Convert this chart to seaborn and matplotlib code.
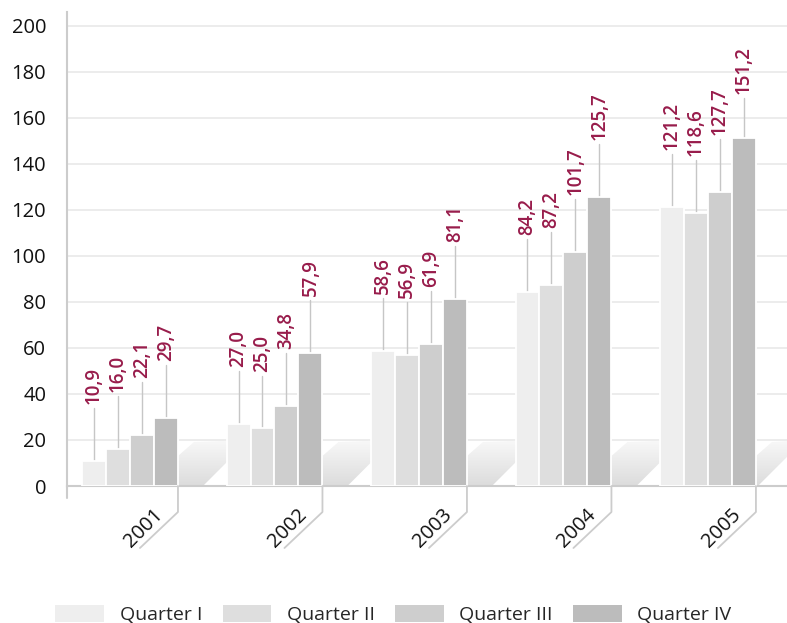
#!/usr/bin/env python3
"""
Quarterly values 2001-2005, grouped grey bars with leader-line labels
"""

import numpy as np
import pandas as pd
import matplotlib
matplotlib.use("Agg")
import matplotlib.pyplot as plt
from matplotlib.patches import Patch, Polygon
from matplotlib.colors import LinearSegmentedColormap
import seaborn as sns

# data
years = ["2001", "2002", "2003", "2004", "2005"]
quarters = ["Quarter I", "Quarter II", "Quarter III", "Quarter IV"]
q1 = [10.9, 27.0, 58.6, 84.2, 121.2]
q2 = [16.0, 25.0, 56.9, 87.2, 118.6]
q3 = [22.1, 34.8, 61.9, 101.7, 127.7]
q4 = [29.7, 57.9, 81.1, 125.7, 151.2]
y_ticks = [0, 20, 40, 60, 80, 100, 120, 140, 160, 180, 200]

colors = ["#eeeeee", "#dedede", "#cecece", "#bcbcbc"]
label_color = "#981c4b"
line_color = "#cccccc"


def px_offset(ax, x, y, dx, dy):
    """Point (x, y) in data shifted by (dx, dy) display pixels, back in data"""
    disp = ax.transData.transform((x, y))
    return ax.transData.inverted().transform((disp[0] + dx, disp[1] + dy))


def main():
    sns.set_style("white")
    plt.rcParams["font.family"] = ["Open Sans", "DejaVu Sans"]

    df = pd.DataFrame({
        "year": np.repeat(years, 4),
        "quarter": quarters * len(years),
        "value": np.array([q1, q2, q3, q4]).T.flatten(),
    })

    fig = plt.figure(figsize=(7.87, 6.23), dpi=100)
    ax = fig.add_axes([67 / 787, 137 / 623, 1 - 67 / 787, (486 - 12) / 623])

    group_w = 0.664
    sns.barplot(data=df, x="year", y="value", hue="quarter", order=years,
                hue_order=quarters, palette=colors, width=group_w, gap=0,
                edgecolor="white", linewidth=1.3, legend=False, ax=ax,
                zorder=3)

    ax.set_xlim(-0.436, 4.547)
    ax.set_ylim(0, 206)
    ax.set_yticks(y_ticks)
    ax.set_xticks([])
    ax.set_xlabel("")
    ax.set_ylabel("")

    ax.yaxis.grid(True, color="#ececec", lw=1.4)
    ax.set_axisbelow(True)
    for s in ["top", "right"]:
        ax.spines[s].set_visible(False)
    for s in ["left", "bottom"]:
        ax.spines[s].set_color(line_color)
        ax.spines[s].set_linewidth(1.5)
    ax.tick_params(axis="y", length=10, width=1.2, color=line_color,
                   labelsize=14.5, labelcolor="#111111", pad=5)

    # left axis runs a little below zero
    y_low = px_offset(ax, -0.436, 0, 0, -12)[1]
    ax.plot([-0.436, -0.436], [y_low, 0], color=line_color, lw=1.5,
            clip_on=False, zorder=4)

    # floor depth shading between groups
    cmap = LinearSegmentedColormap.from_list("floor", ["#f8f8f8", "#dcdcdc"])
    grad = np.linspace(0, 1, 64).reshape(-1, 1)
    for i in range(len(years)):
        xe = i + group_w / 2
        w = 25 if i < len(years) - 1 else 2
        offs = [(0, 0), (w, 0), (w + 46, 46), (16, 44), (0, 30)]
        pts = np.array([px_offset(ax, xe, 0, dx, dy) for dx, dy in offs])
        poly = Polygon(pts, closed=True, facecolor="none", edgecolor="none")
        ax.add_patch(poly)
        im = ax.imshow(grad, cmap=cmap, aspect="auto", origin="upper",
                       extent=(pts[:, 0].min(), pts[:, 0].max(), 0, pts[:, 1].max()),
                       zorder=1)
        im.set_clip_path(poly)

    # year tick decorations
    for i, yr in enumerate(years):
        xe = i + group_w / 2
        p0 = px_offset(ax, xe, 0, 0, 0)
        p1 = px_offset(ax, xe, 0, 0, -26)
        p2 = px_offset(ax, xe, 0, -38, -62)
        ax.plot([p0[0], p1[0], p2[0]], [p0[1], p1[1], p2[1]], color=line_color,
                lw=1.3, clip_on=False, zorder=4)
        tp = px_offset(ax, xe, 0, -11, -33)
        ax.text(tp[0], tp[1], yr, rotation=45, rotation_mode="anchor",
                ha="right", va="bottom", fontsize=14.5, color="#111111")

    ax.set_xlim(-0.436, 4.547)
    ax.set_ylim(0, 206)

    # value labels with leader lines
    series = [q1, q2, q3, q4]
    cap = 168.7
    for container, vals in zip(ax.containers, series):
        for bar, v in zip(container, vals):
            xc = bar.get_x() + bar.get_width() / 2
            top = min(v + 23, cap)
            ax.plot([xc, xc], [v, top], color="#c6c6c6", lw=1.0, zorder=2)
            tp = px_offset(ax, xc, top, 0, 4)
            ax.text(tp[0], tp[1], f"{v:.1f}".replace(".", ","), rotation=90,
                    ha="center", va="bottom", fontsize=13.5, color=label_color,
                    fontweight="semibold", zorder=5)

    handles = [Patch(facecolor=c, edgecolor="none") for c in colors]
    fig.legend(handles, quarters, loc="lower center", bbox_to_anchor=(0.5, -0.03),
               ncol=4, frameon=False, handlelength=2.5, handleheight=0.95,
               handletextpad=0.8, columnspacing=1.05, fontsize=14)

    fig.savefig("out.png", dpi=100)
    plt.close("all")


if __name__ == "__main__":
    main()
